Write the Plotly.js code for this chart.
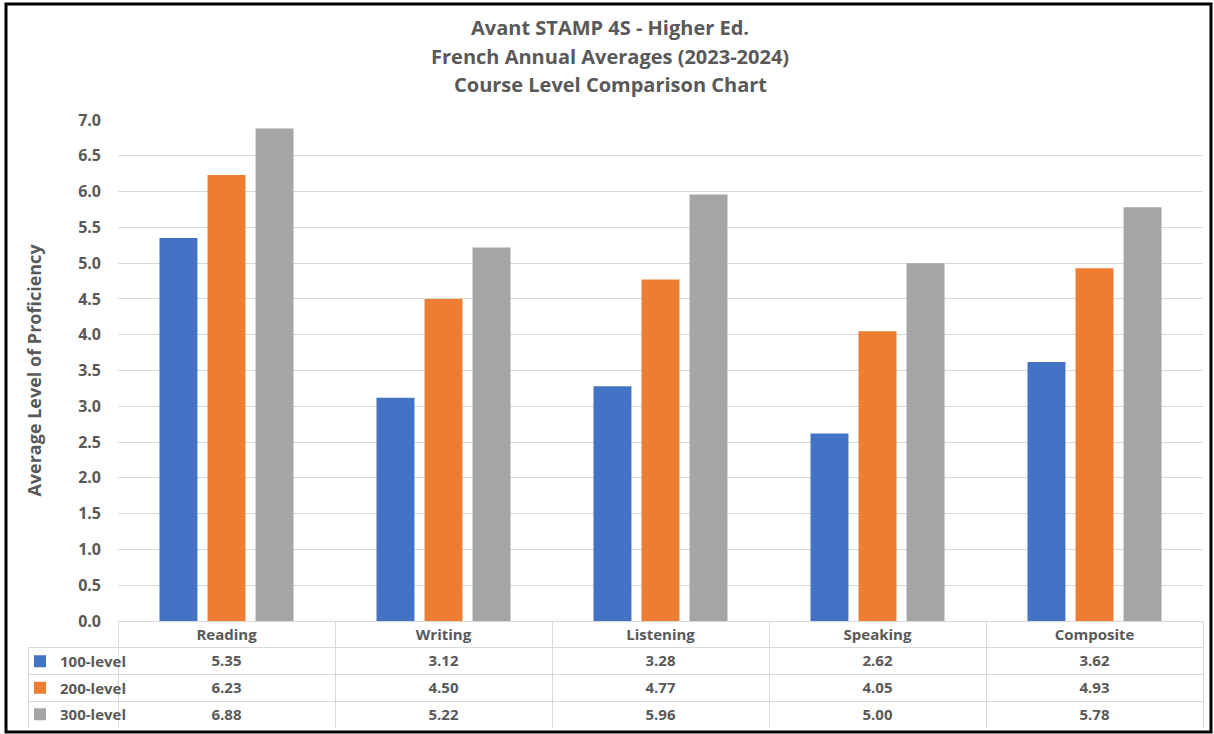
<!DOCTYPE html>
<html>
<head>
<meta charset="utf-8">
<script src="https://cdn.plot.ly/plotly-3.0.1.min.js"></script>
<style>html,body{margin:0;padding:0;background:#fff;}#chart{width:1214px;height:734px;}</style>
</head>
<body>
<div id="chart"></div>
<script>
const titleLines = ["Avant STAMP 4S - Higher Ed.", "French Annual Averages (2023-2024)", "Course Level Comparison Chart"];
const categories = ["Reading", "Writing", "Listening", "Speaking", "Composite"];
const seriesNames = ["100-level", "200-level", "300-level"];
const level100 = [5.35, 3.12, 3.28, 2.62, 3.62];
const level200 = [6.23, 4.50, 4.77, 4.05, 4.93];
const level300 = [6.88, 5.22, 5.96, 5.00, 5.78];
const colors = ["#4472C4", "#ED7D31", "#A5A5A5"];
const yTicks = [0, 0.5, 1, 1.5, 2, 2.5, 3, 3.5, 4, 4.5, 5, 5.5, 6, 6.5, 7];

const W = 1214, H = 734;
const px = v => v / W;
const py = v => 1 - v / H;
const textColor = "#595959";
const fontFam = "'Open Sans', sans-serif";
const gridColor = "#D9D9D9";

const seriesVals = [level100, level200, level300];
const bars = seriesVals.map((vals, i) => ({
  type: "bar",
  name: seriesNames[i],
  legendgroup: "g" + i,
  x: categories,
  y: vals,
  marker: {color: colors[i]},
  showlegend: true,
  hoverinfo: "x+y+name"
}));

const fmt = v => v.toFixed(2);
const cellValues = [seriesNames.map(() => "")].concat(categories.map((c, ci) => seriesVals.map(s => fmt(s[ci]))));
const headerValues = [""].concat(categories);

const table = {
  type: "table",
  domain: {x: [px(28), px(1203)], y: [py(729), py(621)]},
  columnwidth: [90, 217, 217, 217, 217, 217],
  header: {
    values: headerValues,
    height: 26,
    align: "center",
    fill: {color: ["rgba(0,0,0,0)", "white", "white", "white", "white", "white"]},
    line: {color: ["rgba(0,0,0,0)", gridColor, gridColor, gridColor, gridColor, gridColor], width: 1},
    font: {family: fontFam, size: 15, color: textColor, weight: "bold"}
  },
  cells: {
    values: cellValues,
    height: 27,
    align: "center",
    fill: {color: "white"},
    line: {color: gridColor, width: 1},
    font: {family: fontFam, size: 15, color: textColor, weight: "bold"}
  }
};

const titleY = [27, 56, 85];
const annotations = titleLines.map((t, i) => ({
  text: "<b>" + t + "</b>",
  xref: "paper", yref: "paper",
  x: px(610), y: py(titleY[i]),
  xanchor: "center", yanchor: "middle",
  showarrow: false,
  font: {family: fontFam, size: 20, color: textColor}
}));

const layout = {
  width: W, height: H,
  margin: {l: 0, r: 0, t: 0, b: 0},
  paper_bgcolor: "white",
  plot_bgcolor: "white",
  barmode: "group",
  bargap: 0.336,
  bargroupgap: 0.21,
  annotations: annotations,
  showlegend: true,
  legend: {
    x: px(20), xanchor: "left",
    y: py(645), yanchor: "top",
    orientation: "v",
    traceorder: "grouped",
    tracegroupgap: 4,
    bgcolor: "rgba(0,0,0,0)",
    borderwidth: 0,
    itemwidth: 30,
    itemclick: false, itemdoubleclick: false,
    font: {family: fontFam, size: 15, color: textColor, weight: "bold"}
  },
  xaxis: {
    domain: [px(118), px(1203)],
    showticklabels: false,
    showgrid: false,
    zeroline: false,
    showline: false,
    ticks: "",
    fixedrange: true
  },
  yaxis: {
    domain: [py(621), py(120)],
    range: [0, 7],
    tickvals: yTicks,
    ticktext: yTicks.map(v => v.toFixed(1)),
    tickfont: {family: fontFam, size: 16, color: textColor, weight: "bold"},
    ticklabelstandoff: 16,
    showgrid: true,
    gridcolor: gridColor,
    gridwidth: 1,
    zeroline: false,
    showline: false,
    ticks: "",
    title: {
      text: "<b>Average Level of Proficiency</b>",
      font: {family: fontFam, size: 18, color: textColor},
      standoff: 31
    },
    fixedrange: true
  },
  shapes: [{
    type: "rect", xref: "paper", yref: "paper",
    x0: px(6), x1: px(1211), y0: py(732), y1: py(4),
    line: {color: "black", width: 3}
  }]
};

Plotly.newPlot("chart", bars.concat([table]), layout, {displayModeBar: false});
</script>
</body>
</html>
